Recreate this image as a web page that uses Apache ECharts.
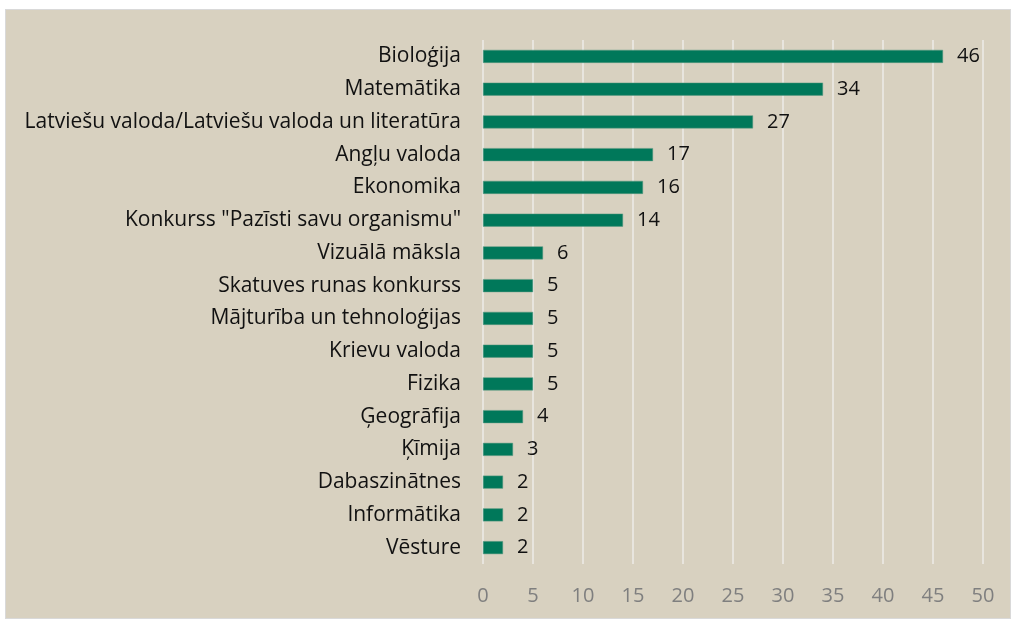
<!DOCTYPE html>
<html>
<head>
<meta charset="utf-8">
<script src="https://cdn.jsdelivr.net/npm/echarts@6/dist/echarts.min.js"></script>
<style>
  html, body { margin: 0; padding: 0; background: #ffffff; }
  #frame {
    position: absolute; left: 5px; top: 9px;
    width: 1006px; height: 610px;
    box-sizing: border-box;
    border: 1px solid #d9d9d9;
    background: #d8d1c0;
  }
  #chart { width: 100%; height: 100%; }
</style>
</head>
<body>
<div id="frame"><div id="chart"></div></div>
<script>
// Subjects, from the top of the list down
const subjects = [
  'Bioloģija',
  'Matemātika',
  'Latviešu valoda/Latviešu valoda un literatūra',
  'Angļu valoda',
  'Ekonomika',
  'Konkurss "Pazīsti savu organismu"',
  'Vizuālā māksla',
  'Skatuves runas konkurss',
  'Mājturība un tehnoloģijas',
  'Krievu valoda',
  'Fizika',
  'Ģeogrāfija',
  'Ķīmija',
  'Dabaszinātnes',
  'Informātika',
  'Vēsture'
];
const counts = [46, 34, 27, 17, 16, 14, 6, 5, 5, 5, 5, 4, 3, 2, 2, 2];
const axisTicks = [0, 5, 10, 15, 20, 25, 30, 35, 40, 45, 50];

const font = 'Open Sans, Noto Sans, sans-serif';
const chart = echarts.init(document.getElementById('chart'));
chart.setOption({
  animation: false,
  grid: { left: 477, right: 27, top: 30, bottom: 54 },
  xAxis: {
    type: 'value',
    min: axisTicks[0],
    max: axisTicks[axisTicks.length - 1],
    interval: axisTicks[1] - axisTicks[0],
    axisLine: { show: false },
    axisTick: { show: false },
    splitLine: { show: true, lineStyle: { color: '#e8e5de', width: 2 } },
    axisLabel: { color: '#7f7f7f', fontSize: 20, fontFamily: font, margin: 22 }
  },
  yAxis: {
    type: 'category',
    inverse: true,
    data: subjects,
    axisLine: { show: false },
    axisTick: { show: false },
    axisLabel: { color: '#111111', fontSize: 21, fontFamily: font, margin: 22 }
  },
  series: [{
    type: 'bar',
    data: counts,
    barWidth: 13,
    itemStyle: { color: '#00785a', borderColor: '#5a9a80', borderWidth: 0.5 },
    label: {
      show: true, position: 'right', distance: 14,
      color: '#111111', fontSize: 20, fontFamily: font
    }
  }]
});
</script>
</body>
</html>
